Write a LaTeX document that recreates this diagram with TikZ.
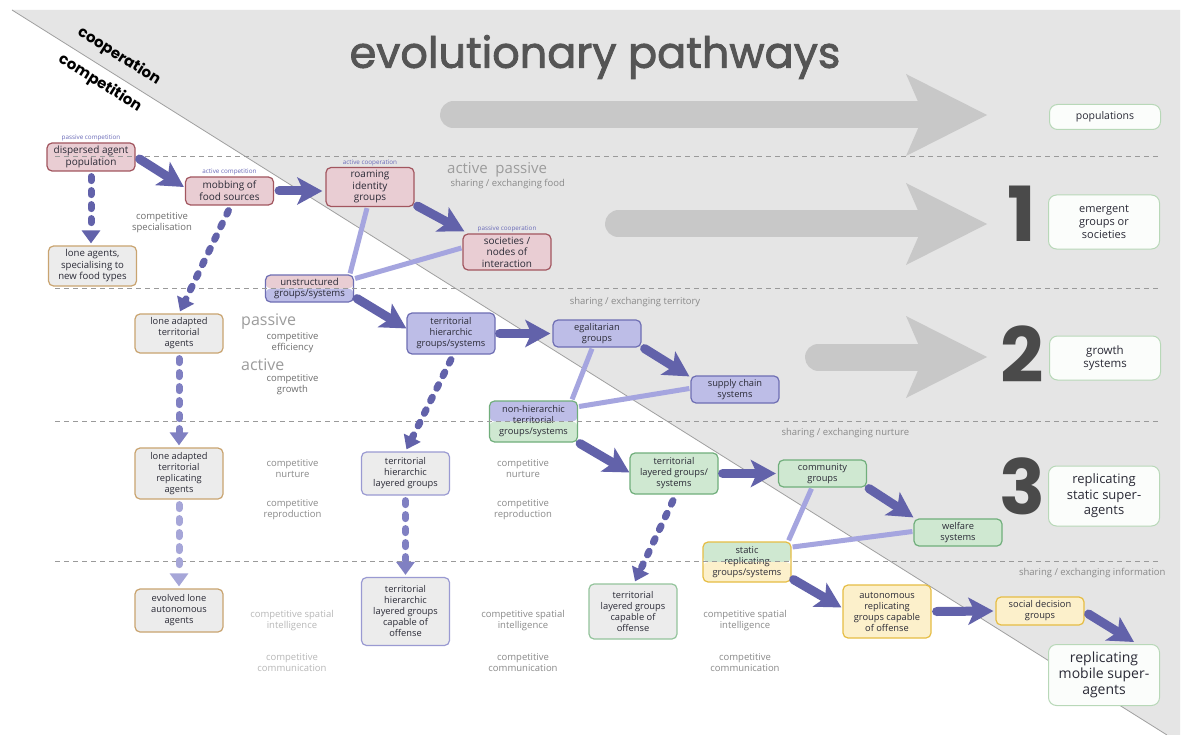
\documentclass[tikz,border=0pt]{standalone}
\usepackage{fontspec}
\setmainfont{Open Sans}
\newfontfamily\roundfont{Poppins}
\newfontfamily\titlefont[FakeBold=2]{Poppins}
\usetikzlibrary{arrows.meta,calc}

\definecolor{bggray}{HTML}{E5E5E5}
\definecolor{edgegray}{HTML}{A0A0A0}
\definecolor{sepgray}{HTML}{9A9A9A}
\definecolor{arrowgray}{HTML}{C8C8C8}
\definecolor{arrowblue}{HTML}{6262AA}
\definecolor{lightlink}{HTML}{A5A5DF}
\definecolor{dashmid}{HTML}{8080C2}
\definecolor{dashlight}{HTML}{A6A6D8}
\definecolor{pinkfill}{HTML}{E9CDD3}
\definecolor{pinkline}{HTML}{A2565F}
\definecolor{lavfill}{HTML}{BDBDE7}
\definecolor{lavline}{HTML}{6E6EB3}
\definecolor{greenfill}{HTML}{CFE8D1}
\definecolor{greenline}{HTML}{70AE7B}
\definecolor{yellowfill}{HTML}{FCF0CB}
\definecolor{yellowline}{HTML}{E6BD44}
\definecolor{grayfill}{HTML}{ECECEC}
\definecolor{tanline}{HTML}{C9A470}
\definecolor{lavlinesoft}{HTML}{9A9AD2}
\definecolor{greenlinesoft}{HTML}{94C49C}
\definecolor{rightfill}{HTML}{FBFDFB}
\definecolor{rightline}{HTML}{B8D8B8}
\definecolor{ink}{HTML}{2A2A36}
\definecolor{labelgray}{HTML}{6E6E6E}
\definecolor{softgray}{HTML}{8A8A8A}
\definecolor{faintgray}{HTML}{B8B8B8}
\definecolor{bignotegray}{HTML}{9C9C9C}
\definecolor{numgray}{HTML}{4A4A4A}
\definecolor{titlegray}{HTML}{555555}
\definecolor{tagcol}{HTML}{6A6AB8}

% wide grey pathway arrow: #1 start x, #2 centre y
\newcommand\pathwayarrow[2]{%
  \draw[arrowgray, line width=27pt, line cap=round] ({#1+13.5},#2) -- (925,#2);
  \fill[arrowgray] (918,{#2-13.5}) -- (906,{#2-41}) -- (987,#2) -- (906,{#2+41}) -- (918,{#2+13.5}) -- cycle;
}

\tikzset{
  cell/.style={rounded corners=5pt, line width=1.2pt, inner sep=1pt, minimum width=88pt,
    align=center, text=ink, font=\fontsize{9.3}{11}\selectfont},
  pinkcell/.style={cell, fill=pinkfill, draw=pinkline},
  lavcell/.style={cell, fill=lavfill, draw=lavline},
  greencell/.style={cell, fill=greenfill, draw=greenline},
  yellowcell/.style={cell, fill=yellowfill, draw=yellowline},
  lonecell/.style={cell, fill=grayfill, draw=tanline},
  graylavcell/.style={cell, fill=grayfill, draw=lavlinesoft},
  graygreencell/.style={cell, fill=grayfill, draw=greenlinesoft},
  splitcell/.style 2 args={cell, path picture={
      \fill[#1] (path picture bounding box.north west) rectangle (path picture bounding box.east);
      \fill[#2] (path picture bounding box.west) rectangle (path picture bounding box.south east);}},
  stagecell/.style={rounded corners=8pt, line width=1pt, fill=rightfill, draw=rightline,
    minimum width=111pt, align=center, text=ink, inner sep=1pt},
  tag/.style={font=\fontsize{6.3}{7}\selectfont, text=tagcol, inner sep=1pt},
  note/.style={font=\fontsize{9.5}{11}\selectfont, text=labelgray, align=center},
  softnote/.style={note, text=softgray},
  faintnote/.style={note, text=faintgray},
  bignote/.style={font=\fontsize{16}{18}\selectfont, text=bignotegray, anchor=west, inner sep=0pt},
  stagenum/.style={font=\roundfont\bfseries\fontsize{76}{80}\selectfont, text=numgray},
  separator/.style={sepgray, line width=0.8pt, dash pattern=on 5pt off 4pt},
  bigarr/.style={arrowblue, line width=9pt, line cap=round,
    -{Stealth[length=25pt, width=27pt, inset=6pt]}},
  dasharr/.style={arrowblue, line width=7pt, line cap=round, dash pattern=on 4pt off 10pt,
    -{Triangle[length=13pt, width=18pt]}},
  link/.style={lightlink, line width=5pt}
}

\begin{document}
\begin{tikzpicture}[x=1pt, y=-1pt]
\useasboundingbox (0,0) rectangle (1198,735);
\fill[white] (0,0) rectangle (1198,735);

% cooperation half-plane
\fill[bggray] (12,10) -- (1180,10) -- (1180,735) -- (1167,735) -- cycle;
\draw[edgegray, line width=0.8pt] (12,10) -- (1167,735);

\node[font=\roundfont\bfseries\fontsize{15}{17}\selectfont, rotate=-32, inner sep=0pt] (coop) at (119,56.5) {cooperation};
\node[font=\roundfont\bfseries\fontsize{15}{17}\selectfont, rotate=-32, inner sep=0pt] (comp) at (100,83.5) {competition};

\node[font=\titlefont\fontsize{43}{48}\selectfont, text=titlegray] (title) at (595,57) {evolutionary pathways};

% grey pathway arrows
\pathwayarrow{440}{115}
\pathwayarrow{605}{224}
\pathwayarrow{805}{357}

% stage numbers
\node[stagenum] (n1) at (1022,214) {1};
\node[stagenum] (n2) at (1022,354) {2};
\node[stagenum] (n3) at (1022,486) {3};

% stage boxes
\node[stagecell, minimum height=25pt, font=\fontsize{10.5}{12}\selectfont] (pop) at (1105,117) {populations};
\node[stagecell, minimum height=54pt, font=\fontsize{11}{13}\selectfont] (emerg) at (1104,222) {emergent\\groups or\\societies};
\node[stagecell, minimum height=44pt, font=\fontsize{11.5}{13.5}\selectfont] (growth) at (1105,358) {growth\\systems};
\node[stagecell, minimum height=60pt, font=\fontsize{13}{15.5}\selectfont] (rstatic) at (1104,496) {replicating\\static super-\\agents};
\node[stagecell, minimum height=61pt, font=\fontsize{14}{16}\selectfont] (rmobile) at (1104,675) {replicating\\mobile super-\\agents};

% nodes
\node[pinkcell, minimum height=28pt, font=\fontsize{10}{12}\selectfont,
      label={[tag]above:passive competition}] (disp) at (91,157) {dispersed agent\\population};
\node[pinkcell, minimum height=28pt, font=\fontsize{10}{12}\selectfont,
      label={[tag]above:active competition}] (mob) at (229.5,191) {mobbing of\\food sources};
\node[pinkcell, minimum height=39pt, font=\fontsize{10}{11.5}\selectfont,
      label={[tag]above:active cooperation}] (roam) at (370,187) {roaming\\identity\\groups};
\node[pinkcell, minimum height=36pt, font=\fontsize{10}{11.5}\selectfont,
      label={[tag]above:passive cooperation}] (soc) at (507,252) {societies /\\nodes of\\interaction};
\node[lonecell, minimum height=40pt, font=\fontsize{9.6}{11.5}\selectfont] (lone) at (92.5,266) {lone agents,\\specialising to\\new food types};
\node[splitcell={pinkfill}{lavfill}, draw=lavline, minimum height=27pt, font=\fontsize{9.6}{11.5}\selectfont] (unstr) at (309.5,288.5) {unstructured\\groups/systems};

\node[lonecell, minimum height=39pt] (lat) at (179,333.5) {lone adapted\\territorial\\agents};
\node[lavcell, minimum height=41pt] (terrh) at (451,333.5) {territorial\\hierarchic\\groups/systems};
\node[lavcell, minimum height=27pt] (egal) at (597,333.5) {egalitarian\\groups};
\node[lavcell, minimum height=27pt] (supply) at (735,389.5) {supply chain\\systems};
\node[splitcell={lavfill}{greenfill}, draw=greenline, minimum height=41pt] (nonh) at (533.5,421.5) {non-hierarchic\\territorial\\groups/systems};

\node[lonecell, minimum height=51pt] (latr) at (179,473.5) {lone adapted\\territorial\\replicating\\agents};
\node[graylavcell, minimum height=43pt] (thl) at (405.5,473.5) {territorial\\hierarchic\\layered groups};
\node[greencell, minimum height=41pt] (terrlay) at (674,473.5) {territorial\\layered groups/\\systems};
\node[greencell, minimum height=27pt] (comm) at (822.5,473.5) {community\\groups};
\node[greencell, minimum height=27pt] (welf) at (958,532.5) {welfare\\systems};
\node[splitcell={greenfill}{yellowfill}, draw=yellowline, minimum height=40pt] (static) at (747,562) {static\\replicating\\groups/systems};

\node[lonecell, minimum height=43pt] (evol) at (179,610.5) {evolved lone\\autonomous\\agents};
\node[graylavcell, minimum height=68pt] (thlo) at (405.5,611.5) {territorial\\hierarchic\\layered groups\\capable of\\offense};
\node[graygreencell, minimum height=55pt] (tlo) at (633,611.5) {territorial\\layered groups\\capable of\\offense};
\node[yellowcell, minimum height=53pt] (auton) at (887,611.5) {autonomous\\replicating\\groups capable\\of offense};
\node[yellowcell, minimum height=28pt] (social) at (1040,611) {social decision\\groups};

% light links between related forms
\draw[link] ($(roam.south)+(-3,1)$) -- ($(unstr.north east)+(-4,-1)$);
\draw[link] ($(unstr.east)+(1,-10)$) -- ($(soc.west)+(-1,-4)$);
\draw[link] ($(egal.south)+(-5,1)$) -- ($(nonh.north east)+(-6,-1)$);
\draw[link] ($(nonh.east)+(1,-15)$) -- ($(supply.west)+(-1,-1)$);
\draw[link] ($(comm.south)+(-11,1)$) -- ($(static.north east)+(-3,-1)$);
\draw[link] ($(static.east)+(1,-15)$) -- ($(welf.west)+(-1,-1)$);

% stage separators
\foreach \yy in {156,288,421,561} \draw[separator] (55,\yy) -- (1160,\yy);

% side notes
\node[note] (nspec) at (162,223) {competitive\\specialisation};
\node[bignote, font=\fontsize{15}{17}\selectfont] (nap) at (447,170) {active\ \ passive};
\node[softnote, anchor=west] (nfood) at (447,184) {sharing / exchanging food};
\node[softnote] (nterr) at (635,302) {sharing / exchanging territory};
\node[bignote] (npas) at (241,322) {passive};
\node[note] (neff) at (292.5,342.5) {competitive\\efficiency};
\node[bignote] (nact) at (241,365) {active};
\node[note] (ngro) at (292.5,384.5) {competitive\\growth};
\node[softnote, anchor=west] (nnurt) at (778,433) {sharing / exchanging nurture};
\node[softnote] (nn1) at (292.5,468.5) {competitive\\nurture};
\node[softnote] (nr1) at (292.5,509.5) {competitive\\reproduction};
\node[softnote] (nn2) at (523,468.5) {competitive\\nurture};
\node[softnote] (nr2) at (523,509.5) {competitive\\reproduction};
\node[softnote, anchor=east] (ninfo) at (1169,573) {sharing / exchanging information};
\node[faintnote] (ns1) at (292,620.5) {competitive spatial\\intelligence};
\node[faintnote] (nc1) at (292,662.5) {competitive\\communication};
\node[softnote] (ns2) at (523,620.5) {competitive spatial\\intelligence};
\node[softnote] (nc2) at (523,662.5) {competitive\\communication};
\node[softnote] (ns3) at (745,620.5) {competitive spatial\\intelligence};
\node[softnote] (nc3) at (745,662.5) {competitive\\communication};

% dashed lineage arrows
\draw[dasharr] ($(disp.south)+(0,5)$) -- ($(disp.south |- lone.north)+(0,-2)$);
\draw[dasharr] ($(mob.south)+(-1,5)$) -- ($(lat.north)+(1,-2)$);
\draw[dasharr, dashmid] ($(lat.south)+(0,5)$) -- ($(latr.north)+(0,-2)$);
\draw[dasharr, dashlight] ($(latr.south)+(0,5)$) -- ($(evol.north)+(0,-2)$);
\draw[dasharr] ($(terrh.south)+(0,5)$) -- ($(thl.north)+(1,-2)$);
\draw[dasharr, dashmid] ($(thl.south)+(0,5)$) -- ($(thlo.north)+(0,-2)$);
\draw[dasharr] ($(terrlay.south)+(-1,6)$) -- ($(tlo.north)+(2,-2)$);

% main pathway arrows
\draw[bigarr] ($(disp.east)+(4,2)$) -- ($(mob.west)+(-1,-4)$);
\draw[bigarr] ($(mob.east)+(5,0)$) -- ($(roam.west)+(-3,4)$);
\draw[bigarr] ($(roam.south east)+(3,-1)$) -- ($(soc.north west)+(2,-2)$);
\draw[bigarr] ($(unstr.south east)+(3,-4)$) -- ($(terrh.west)+(0,-5)$);
\draw[bigarr] ($(terrh.east)+(4,0)$) -- ($(egal.west)+(-2,0)$);
\draw[bigarr] ($(egal.south east)+(3,1)$) -- ($(supply.north west)+(-1,1)$);
\draw[bigarr] ($(nonh.south east)+(2,1)$) -- ($(terrlay.west)+(0,-1)$);
\draw[bigarr] ($(terrlay.east)+(4,0)$) -- ($(comm.west)+(-2,0)$);
\draw[bigarr] ($(comm.south east)+(2,1)$) -- ($(welf.north west)+(0,-1)$);
\draw[bigarr] ($(static.south east)+(2,-3)$) -- ($(auton.west)+(-1,-4)$);
\draw[bigarr] ($(auton.east)+(5,0)$) -- ($(social.west)+(-2,0)$);
\draw[bigarr] ($(social.east)+(4,3)$) -- ($(rmobile.north)+(30,-2)$);
\end{tikzpicture}
\end{document}
